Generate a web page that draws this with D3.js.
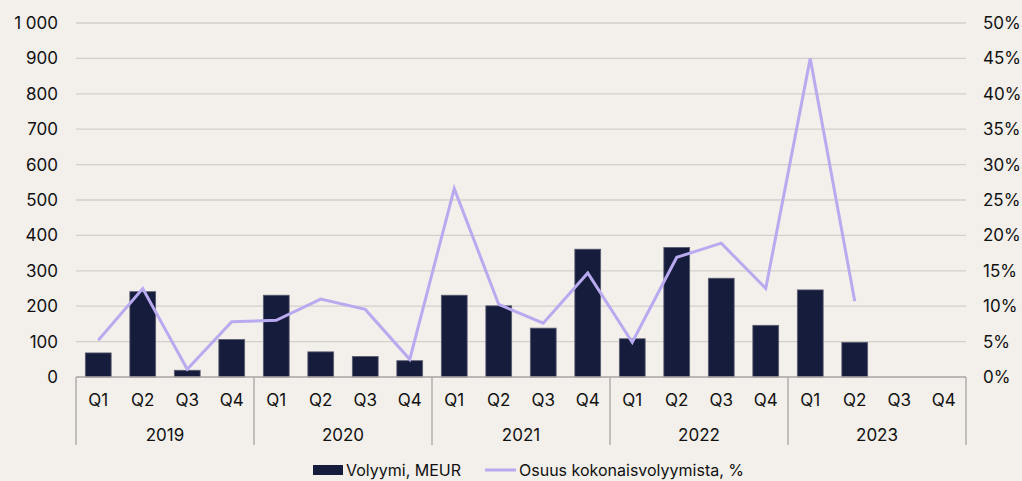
<!DOCTYPE html>
<html><head><meta charset="utf-8">
<script src="https://cdn.jsdelivr.net/npm/d3@7"></script>
<style>body{margin:0;background:#f3efeb;}svg{display:block;font-family:Inter,"Open Sans",sans-serif;}</style>
</head><body>
<svg id="c" width="1022" height="481"></svg>
<script>
const years = ["2019","2020","2021","2022","2023"];
const quarters = ["Q1","Q2","Q3","Q4"];
const volume = [68,241,19,106, 231,71,58,46, 231,201,138,361, 108,366,279,146, 246,98,null,null];
const share = [5.2,12.5,1.1,7.8, 8.0,11.0,9.55,2.5, 26.6,10.25,7.6,14.7, 4.9,16.9,18.9,12.5, 45.0,10.7,null,null];
const leftTicks = [0,100,200,300,400,500,600,700,800,900,1000];
const rightTicks = [0,5,10,15,20,25,30,35,40,45,50];
const seriesNames = ["Volyymi, MEUR","Osuus kokonaisvolyymista, %"];

const cats = [];
years.forEach(y => quarters.forEach(q => cats.push({id:y+"-"+q, y, q})));
const data = cats.map((c,i)=>({...c, v:volume[i], s:share[i]}));

const svg = d3.select("#c");
const L=76, R=966, T=23, B=377;
const x = d3.scaleBand().domain(cats.map(c=>c.id)).range([L,R]).paddingInner(0.42).paddingOuter(0.21);
const xs = d3.scaleBand().domain(cats.map(c=>c.id)).range([L,R]);
const yL = d3.scaleLinear().domain([0,1000]).range([B,T]);
const yR = d3.scaleLinear().domain([0,50]).range([B,T]);
const fmtL = d => d3.format(",")(d).replace(",", " ");

// gridlines
svg.append("g").selectAll("line").data(leftTicks.filter(d=>d>0)).join("line")
  .attr("x1",L).attr("x2",R).attr("y1",d=>yL(d)).attr("y2",d=>yL(d))
  .attr("stroke","#d3cfcb").attr("stroke-width",1.3);

// left axis
const ga = d3.axisLeft(yL).tickValues(leftTicks).tickFormat(fmtL).tickSize(0).tickPadding(18);
svg.append("g").attr("transform",`translate(${L},0)`).call(ga)
  .call(g=>g.select(".domain").remove())
  .selectAll("text").attr("font-size",17).attr("fill","#111").attr("font-family","Inter,sans-serif");

// right axis
const gr = d3.axisRight(yR).tickValues(rightTicks).tickFormat(d=>d+"%").tickSize(0).tickPadding(17);
svg.append("g").attr("transform",`translate(${R},0)`).call(gr)
  .call(g=>g.select(".domain").remove())
  .selectAll("text").attr("font-size",17).attr("fill","#111").attr("font-family","Inter,sans-serif");

// bars
svg.append("g").selectAll("rect").data(data.filter(d=>d.v!=null)).join("rect")
  .attr("x",d=>x(d.id)).attr("width",x.bandwidth())
  .attr("y",d=>yL(d.v)).attr("height",d=>B-yL(d.v))
  .attr("fill","#161c3c").attr("stroke","#5a5d70").attr("stroke-width",0.8);

// baseline
svg.append("line").attr("x1",L).attr("x2",R).attr("y1",B).attr("y2",B).attr("stroke","#a8a5a2").attr("stroke-width",1.3);

// line
const line = d3.line().defined(d=>d.s!=null).x(d=>xs(d.id)+xs.bandwidth()/2).y(d=>yR(d.s));
svg.append("path").datum(data).attr("d",line).attr("fill","none")
  .attr("stroke","#b9aaf0").attr("stroke-width",3).attr("stroke-linejoin","miter");

// category axis
const gx = svg.append("g");
gx.selectAll("text.q").data(data).join("text").attr("class","q")
  .attr("x",d=>xs(d.id)+xs.bandwidth()/2).attr("y",400).attr("dy","0.35em")
  .attr("text-anchor","middle").attr("font-size",17).attr("fill","#111").text(d=>d.q);
years.forEach((yr,i)=>{
  const x0 = xs(yr+"-Q1"), x1 = xs(yr+"-Q4")+xs.bandwidth();
  gx.append("text").attr("x",(x0+x1)/2).attr("y",435).attr("dy","0.35em")
    .attr("text-anchor","middle").attr("font-size",17).attr("fill","#111").text(yr);
});
const seps = years.map(yr=>xs(yr+"-Q1")).concat([R]);
gx.selectAll("line").data(seps).join("line")
  .attr("x1",d=>d).attr("x2",d=>d).attr("y1",B).attr("y2",445)
  .attr("stroke","#a8a5a2").attr("stroke-width",1.3);

// legend
const lg = svg.append("g");
lg.append("rect").attr("x",313).attr("y",465).attr("width",30).attr("height",10).attr("fill","#161c3c");
lg.append("text").attr("x",346).attr("y",470).attr("dy","0.35em").attr("font-size",16).attr("fill","#111").text(seriesNames[0]);
lg.append("line").attr("x1",485).attr("x2",516).attr("y1",470).attr("y2",470).attr("stroke","#b9aaf0").attr("stroke-width",3);
lg.append("text").attr("x",519).attr("y",470).attr("dy","0.35em").attr("font-size",16).attr("fill","#111").text(seriesNames[1]);
</script>
</body></html>
